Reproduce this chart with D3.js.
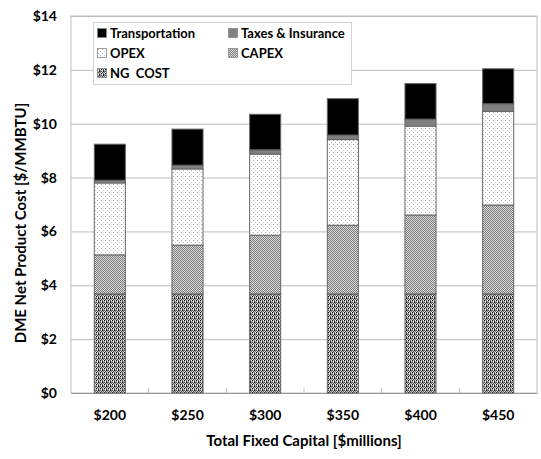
<!DOCTYPE html>
<html lang="en">
<head>
<meta charset="UTF-8">
<title>DME Net Product Cost</title>
<script src="https://cdn.jsdelivr.net/npm/d3@7"></script>
<style>
  body { margin: 0; background: #fff; }
  text { font-family: Lato, "Open Sans", sans-serif; font-weight: bold; fill: #000; }
</style>
</head>
<body>
<div id="chart"></div>
<script>
const categories = ["$200", "$250", "$300", "$350", "$400", "$450"];
const ngCost = [3.68, 3.68, 3.68, 3.68, 3.68, 3.68];
const capex = [1.45, 1.81, 2.18, 2.55, 2.93, 3.30];
const opex = [2.67, 2.83, 3.01, 3.18, 3.30, 3.48];
const taxes = [0.10, 0.14, 0.16, 0.17, 0.26, 0.28];
const transport = [1.34, 1.34, 1.32, 1.35, 1.32, 1.30];
const yTicks = [0, 2, 4, 6, 8, 10, 12, 14];

const seriesNames = ["NG  COST", "CAPEX", "OPEX", "Taxes & Insurance", "Transportation"];
const seriesData = [ngCost, capex, opex, taxes, transport];

const W = 541, H = 459;
const plotL = 71, plotR = 537, plotT = 16, plotB = 393;

const svg = d3.select("#chart").append("svg")
  .attr("width", W)
  .attr("height", H);

// fill patterns
const defs = svg.append("defs");

const ng = defs.append("pattern").attr("id", "p-ng")
  .attr("patternUnits", "userSpaceOnUse").attr("width", 4).attr("height", 4);
const ngPix = [
  ["#000", "#bbb", "#666", "#eee"],
  ["#999", "#fff", "#333", "#aaa"],
  ["#555", "#ccc", "#000", "#888"],
  ["#ddd", "#444", "#bbb", "#777"]
];
ngPix.forEach((row, j) => row.forEach((c, i) => {
  ng.append("rect").attr("x", i).attr("y", j).attr("width", 1).attr("height", 1).attr("fill", c);
}));

const cp = defs.append("pattern").attr("id", "p-capex")
  .attr("patternUnits", "userSpaceOnUse").attr("width", 2).attr("height", 2);
cp.append("rect").attr("width", 2).attr("height", 2).attr("fill", "#dcdcdc");
cp.append("rect").attr("x", 0).attr("y", 0).attr("width", 1).attr("height", 1).attr("fill", "#7a7a7a");
cp.append("rect").attr("x", 1).attr("y", 1).attr("width", 1).attr("height", 1).attr("fill", "#7a7a7a");

const op = defs.append("pattern").attr("id", "p-opex")
  .attr("patternUnits", "userSpaceOnUse").attr("width", 4).attr("height", 4);
op.append("rect").attr("width", 4).attr("height", 4).attr("fill", "#fff");
op.append("rect").attr("x", 1).attr("y", 0).attr("width", 1).attr("height", 1).attr("fill", "#aaa");
op.append("rect").attr("x", 3).attr("y", 2).attr("width", 1).attr("height", 1).attr("fill", "#c8c8c8");

const fills = ["url(#p-ng)", "url(#p-capex)", "url(#p-opex)", "#808080", "#000"];

const x = d3.scaleBand().domain(categories).range([plotL, plotR]).padding(0);
const y = d3.scaleLinear().domain([0, 14]).range([plotB, plotT]);
const barW = x.bandwidth() * 0.4;

// plot frame
svg.append("rect")
  .attr("x", plotL).attr("y", plotT)
  .attr("width", plotR - plotL).attr("height", plotB - plotT)
  .attr("fill", "none").attr("stroke", "#bdbdbd");

// y axis with gridlines
const yAxis = svg.append("g")
  .attr("transform", `translate(${plotL},0)`)
  .call(d3.axisLeft(y).tickValues(yTicks).tickSize(-(plotR - plotL)).tickPadding(14).tickFormat(d => "$" + d));
yAxis.select(".domain").remove();
yAxis.selectAll(".tick line").attr("stroke", "#bdbdbd");
yAxis.selectAll(".tick text").style("font-size", "14px").style("font-family", "Lato, sans-serif");

// x axis labels
const xAxis = svg.append("g")
  .attr("transform", `translate(0,${plotB})`)
  .call(d3.axisBottom(x).tickSize(0).tickPadding(17));
xAxis.select(".domain").attr("stroke", "#999");
xAxis.selectAll(".tick text").style("font-size", "14px").style("font-family", "Lato, sans-serif");

// category boundary ticks
svg.append("g").selectAll("line")
  .data(categories.slice(1))
  .join("line")
  .attr("x1", d => x(d)).attr("x2", d => x(d))
  .attr("y1", plotB - 5).attr("y2", plotB)
  .attr("stroke", "#bdbdbd");

// stacked bars
const stacked = categories.map((c, i) => {
  let acc = 0;
  return seriesData.map((s, k) => {
    const y0 = acc;
    acc += s[i];
    return { cat: c, k: k, y0: y0, y1: acc };
  });
}).flat();

svg.append("g").selectAll("rect")
  .data(stacked)
  .join("rect")
  .attr("x", d => x(d.cat) + (x.bandwidth() - barW) / 2)
  .attr("width", barW)
  .attr("y", d => y(d.y1))
  .attr("height", d => y(d.y0) - y(d.y1))
  .attr("fill", d => fills[d.k])
  .attr("stroke", "#666")
  .attr("stroke-width", 1);

// legend
const lg = svg.append("g");
lg.append("rect")
  .attr("x", 93.5).attr("y", 22.5).attr("width", 258).attr("height", 62)
  .attr("fill", "#fff").attr("stroke", "#d4d4d4");

const legendItems = [
  { k: 4, col: 0, row: 0 },
  { k: 3, col: 1, row: 0 },
  { k: 2, col: 0, row: 1 },
  { k: 1, col: 1, row: 1 },
  { k: 0, col: 0, row: 2 }
];
const li = lg.selectAll("g.item")
  .data(legendItems)
  .join("g")
  .attr("class", "item")
  .attr("transform", d => `translate(${d.col ? 228 : 97},${33 + d.row * 20})`);
li.append("rect")
  .attr("x", 0.5).attr("y", -4.5).attr("width", 9).attr("height", 9)
  .attr("fill", d => fills[d.k])
  .attr("stroke", "#888").attr("stroke-width", 0.8);
li.append("text")
  .attr("x", 13).attr("y", 0).attr("dy", "0.36em")
  .style("font-size", "13px")
  .style("white-space", "pre")
  .attr("xml:space", "preserve")
  .text(d => seriesNames[d.k]);

// axis titles
svg.append("text")
  .attr("x", (plotL + plotR) / 2).attr("y", 441).attr("dy", "0.36em")
  .attr("text-anchor", "middle")
  .style("font-size", "15px")
  .text("Total Fixed Capital [$millions]");

svg.append("text")
  .attr("transform", "translate(21,223) rotate(-90)")
  .attr("dy", "0.36em")
  .attr("text-anchor", "middle")
  .style("font-size", "15px")
  .text("DME Net Product Cost [$/MMBTU]");
</script>
</body>
</html>
